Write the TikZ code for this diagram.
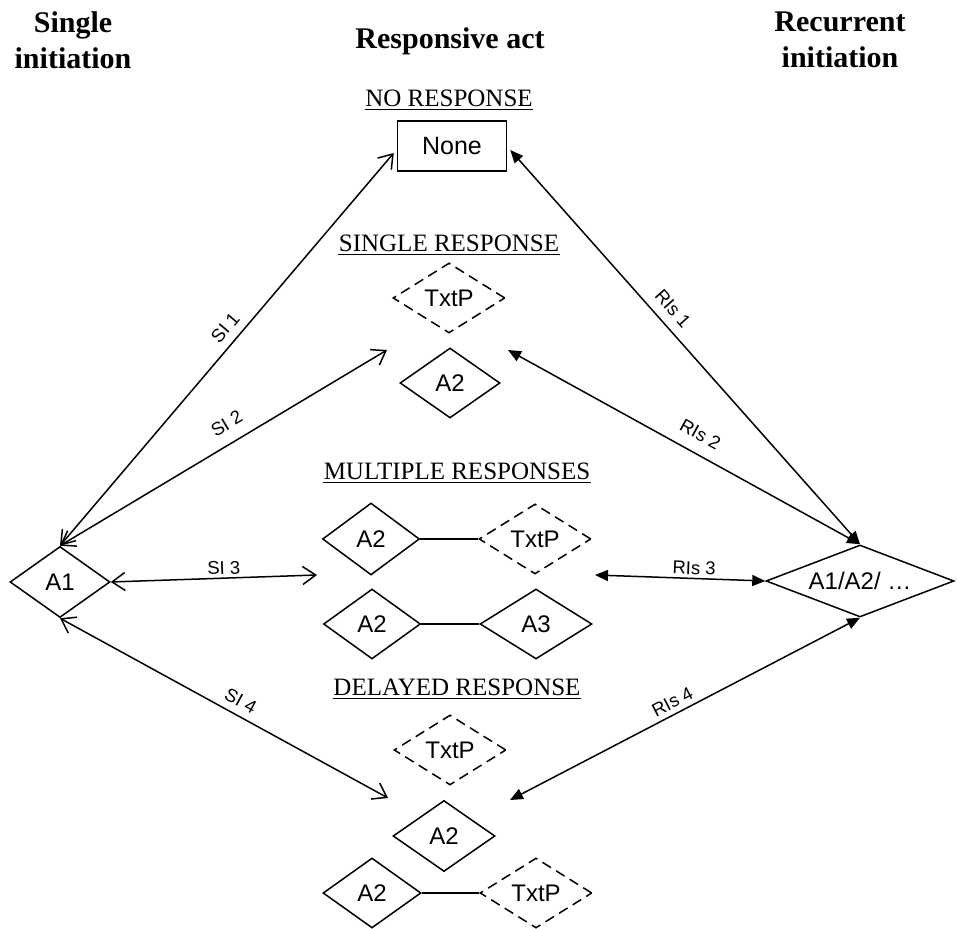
\documentclass[tikz,border=0pt]{standalone}
\usepackage{fontspec}
\setmainfont{Liberation Serif}
\setsansfont{Liberation Sans}
\usetikzlibrary{arrows.meta,shapes.geometric}

\begin{document}
\begin{tikzpicture}[x=1pt,y=1pt,
  line width=1.5pt,
  header/.style={font=\fontsize{30}{36}\selectfont\bfseries, align=center, inner sep=0pt},
  section/.style={font=\fontsize{25}{30}\selectfont, inner sep=0pt, anchor=base},
  act/.style={diamond, draw, aspect=1.4, inner sep=0pt,
    font=\sffamily\fontsize{24}{28}\selectfont,
    minimum width=100pt, minimum height=70pt},
  optional/.style={act, dash pattern=on 10pt off 6pt},
  link/.style={line width=1.3pt},
  si/.style={line width=1.5pt,
    {Straight Barb[length=13pt,width=18pt]}-{Straight Barb[length=13pt,width=18pt]}},
  ris/.style={line width=1.5pt,
    {Triangle[length=13pt,width=11pt]}-{Triangle[length=13pt,width=11pt]}},
  lbl/.style={font=\sffamily\fontsize{18.5}{22}\selectfont, sloped, above, inner sep=3pt},
]
\useasboundingbox (0,0) rectangle (957,928);

% column headings
\node[header, anchor=north] (hSingle) at (73,917) {Single\\initiation};
\node[header, anchor=base]  (hResp)   at (450,879) {Responsive act};
\node[header, anchor=north] (hRec)    at (840,917) {Recurrent\\initiation};

% section titles
\node[section] (tNo)      at (449,821) {NO RESPONSE};
\node[section] (tSingle)  at (449,676) {SINGLE RESPONSE};
\node[section] (tMulti)   at (457,448) {MULTIPLE RESPONSES};
\node[section] (tDelayed) at (457,232) {DELAYED RESPONSE};
\foreach \t in {tNo,tSingle,tMulti,tDelayed}
  \draw[line width=1pt] ([yshift=-3pt]\t.base west) -- ([yshift=-3pt]\t.base east);

% no response
\node[draw, rectangle, minimum width=109pt, minimum height=50pt, inner sep=0pt,
      font=\sffamily\fontsize{25}{30}\selectfont] (None) at (452,782) {None};

% single response
\node[optional, minimum width=112pt] (sTxtP) at (449,630) {TxtP};
\node[act] (sA2) at (450,545) {A2};

% multiple responses
\node[act, minimum width=97pt, minimum height=72pt] (m1A2) at (371,389) {A2};
\node[optional, minimum width=112pt] (m1TxtP) at (535,389) {TxtP};
\node[act, minimum width=97pt] (m2A2) at (372,304) {A2};
\node[act, minimum width=112pt] (m2A3) at (536,304) {A3};
\draw[link] (m1A2.east) -- (m1TxtP.west);
\draw[link] (m2A2.east) -- (m2A3.west);

% delayed response
\node[optional, minimum width=112pt] (dTxtP) at (450,178) {TxtP};
\node[act, minimum width=102pt, minimum height=71pt] (dA2) at (444,92) {A2};
\node[act, minimum width=98pt] (bA2) at (372,35) {A2};
\node[optional, minimum width=112pt] (bTxtP) at (536,35) {TxtP};
\draw[link] (bA2.east) -- (bTxtP.west);

% initiations
\node[act, minimum height=71pt] (A1) at (60,346) {A1};
\node[act, aspect=2.6, minimum width=188pt, minimum height=72pt] (A1A2) at (860,347) {A1/A2/ \dots};

% free ends of the connectors at each response group
\coordinate (srL) at (387,578);
\coordinate (srR) at (508,578);
\coordinate (mrL) at (317,353);
\coordinate (mrR) at (595,353);
\coordinate (drL) at (388,130);
\coordinate (drR) at (510,128);

% single initiation connectors
\draw[si] (A1.north) -- ([shift={(-3pt,-7pt)}]None.west) node[lbl, pos=0.53, inner sep=8pt] {SI 1};
\draw[si] (A1.north) -- (srL) node[lbl, pos=0.54, inner sep=12pt] {SI 2};
\draw[si] (A1.east) -- (mrL) node[lbl, pos=0.55] {SI 3};
\draw[si] (A1.south) -- (drL) node[lbl, pos=0.53, inner sep=7pt] {SI 4};

% recurrent initiation connectors
\draw[ris] ([shift={(3pt,-4pt)}]None.east) -- (A1A2.north) node[lbl, pos=0.43, inner sep=9pt] {RIs 1};
\draw[ris] (srR) -- (A1A2.north) node[lbl, pos=0.52, inner sep=12pt] {RIs 2};
\draw[ris] (mrR) -- (A1A2.west) node[lbl, pos=0.58] {RIs 3};
\draw[ris] (drR) -- (A1A2.south) node[lbl, pos=0.48, inner sep=5pt] {RIs 4};
\end{tikzpicture}
\end{document}
